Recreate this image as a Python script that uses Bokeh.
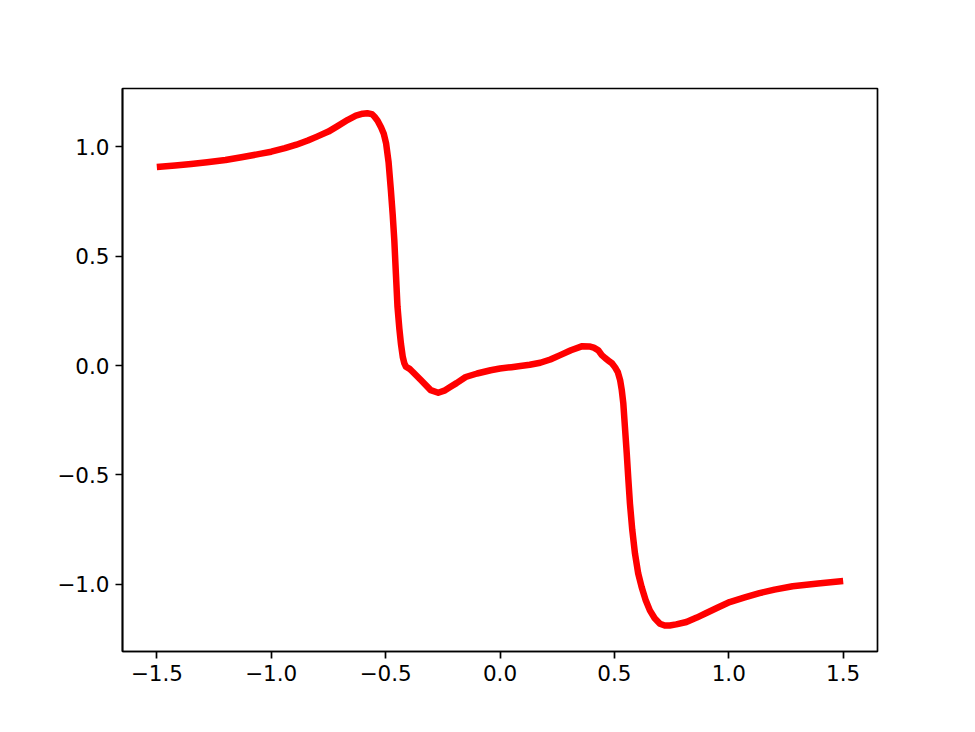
from bokeh.plotting import figure
from bokeh.embed import file_html
from bokeh.resources import INLINE
from bokeh.models import Range1d, FixedTicker, CustomJSTickFormatter

x_vals = [-1.5, -1.42, -1.35, -1.28, -1.2, -1.13, -1.05, -1.0, -0.94, -0.89,
          -0.84, -0.8, -0.75, -0.71, -0.665, -0.63, -0.6, -0.58, -0.56, -0.549,
          -0.535, -0.52, -0.508, -0.498, -0.487, -0.477, -0.469, -0.462, -0.455, -0.448,
          -0.44, -0.433, -0.425, -0.418, -0.411, -0.395, -0.382, -0.346, -0.303, -0.27,
          -0.24, -0.216, -0.19, -0.15, -0.1, -0.041, 0.0, 0.05, 0.089, 0.13,
          0.176, 0.22, 0.263, 0.31, 0.36, 0.39, 0.41, 0.43, 0.445, 0.46,
          0.475, 0.49, 0.503, 0.515, 0.525, 0.532, 0.539, 0.546, 0.554, 0.561,
          0.568, 0.578, 0.59, 0.604, 0.619, 0.636, 0.655, 0.676, 0.699, 0.72,
          0.742, 0.77, 0.815, 0.86, 0.902, 0.95, 1.004, 1.07, 1.134, 1.2,
          1.279, 1.39, 1.5]
y_vals = [0.908, 0.915, 0.922, 0.930, 0.940, 0.953, 0.968, 0.978, 0.994, 1.01,
          1.029, 1.047, 1.07, 1.095, 1.124, 1.143, 1.152, 1.154, 1.15, 1.139,
          1.12, 1.09, 1.06, 1.017, 0.93, 0.803, 0.69, 0.574, 0.42, 0.269,
          0.17, 0.10, 0.04, 0.01, -0.005, -0.015, -0.028, -0.066, -0.112, -0.124,
          -0.113, -0.097, -0.08, -0.052, -0.036, -0.021, -0.013, -0.007, -0.002, 0.004,
          0.013, 0.028, 0.048, 0.07, 0.089, 0.088, 0.082, 0.07, 0.048, 0.034,
          0.022, 0.01, -0.008, -0.03, -0.066, -0.11, -0.173, -0.28, -0.402, -0.52,
          -0.631, -0.75, -0.859, -0.95, -1.012, -1.07, -1.119, -1.155, -1.180, -1.188,
          -1.188, -1.183, -1.172, -1.152, -1.131, -1.107, -1.081, -1.06, -1.040, -1.024,
          -1.009, -0.996, -0.985]
x_ticks = [-1.5, -1.0, -0.5, 0.0, 0.5, 1.0, 1.5]
y_ticks = [-1.0, -0.5, 0.0, 0.5, 1.0]

p = figure(frame_width=755, frame_height=563, output_backend="svg", toolbar_location=None,
           x_range=Range1d(-1.65, 1.65), y_range=Range1d(-1.307, 1.267),
           min_border_left=122, min_border_right=88, min_border_top=88, min_border_bottom=72)

p.line(x_vals, y_vals, line_color="#ff0000", line_width=6.5, line_join="round", line_cap="butt")

fmt = CustomJSTickFormatter(code="var s = tick.toFixed(1); if (s === '-0.0') s = '0.0'; return s.replace('-', '\u2212');")
for ax, ticks in ((p.xaxis[0], x_ticks), (p.yaxis[0], y_ticks)):
    ax.ticker = FixedTicker(ticks=ticks)
    ax.formatter = fmt
    ax.major_label_text_font = "DejaVu Sans"
    ax.major_label_text_font_size = "21.5px"
    ax.major_label_text_color = "black"
    ax.major_tick_out = 7
    ax.major_tick_in = 0
    ax.major_tick_line_width = 1.7
    ax.major_tick_line_color = "black"
    ax.minor_tick_line_color = None
    ax.axis_line_width = 1.7
    ax.axis_line_color = "black"
    ax.major_label_standoff = 6

p.xgrid.grid_line_color = None
p.ygrid.grid_line_color = None
p.outline_line_color = "black"
p.outline_line_width = 1.7
p.outline_line_alpha = 1.0
p.background_fill_color = "white"
p.border_fill_color = "white"

open("out.html", "w").write(file_html(p, INLINE))
